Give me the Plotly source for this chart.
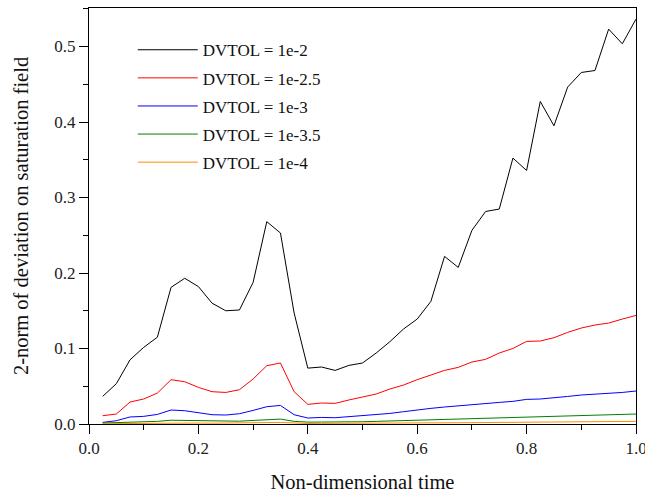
import plotly.graph_objects as go

time = [0.025, 0.05, 0.075, 0.1, 0.125, 0.15, 0.175, 0.2, 0.225, 0.25,
        0.275, 0.3, 0.325, 0.35, 0.375, 0.4, 0.425, 0.45, 0.475, 0.5,
        0.525, 0.55, 0.575, 0.6, 0.625, 0.65, 0.675, 0.7, 0.725, 0.75,
        0.775, 0.8, 0.825, 0.85, 0.875, 0.9, 0.925, 0.95, 0.975, 1.0]

dv_1e2 = [0.0366, 0.0534, 0.085, 0.1015, 0.115, 0.181, 0.193, 0.182, 0.160, 0.150,
          0.151, 0.1875, 0.268, 0.253, 0.147, 0.074, 0.0755, 0.071, 0.0776, 0.0808,
          0.094, 0.109, 0.1258, 0.139, 0.1624, 0.222, 0.2074, 0.2564, 0.2815, 0.2847,
          0.3522, 0.3358, 0.4272, 0.395, 0.4462, 0.4656, 0.4682, 0.523, 0.5036, 0.5363]

dv_1e25 = [0.011, 0.0132, 0.0291, 0.0331, 0.041, 0.0587, 0.056, 0.0485, 0.0428, 0.0418,
           0.0454, 0.0596, 0.0772, 0.0808, 0.0428, 0.026, 0.0278, 0.0273, 0.0318, 0.0361,
           0.0397, 0.0463, 0.0516, 0.0587, 0.0649, 0.071, 0.075, 0.0821, 0.0856, 0.094,
           0.1001, 0.1094, 0.1099, 0.1143, 0.1213, 0.1271, 0.1311, 0.1337, 0.139, 0.1438]

dv_1e3 = [0.0021, 0.0044, 0.0093, 0.0101, 0.0127, 0.0185, 0.0176, 0.0146, 0.0123, 0.0119,
          0.0136, 0.018, 0.0229, 0.0246, 0.0123, 0.0079, 0.0087, 0.0083, 0.0097, 0.011,
          0.0127, 0.014, 0.0163, 0.0189, 0.0207, 0.0225, 0.0238, 0.0256, 0.0273, 0.0286,
          0.03, 0.0326, 0.0331, 0.0344, 0.0365, 0.0384, 0.0392, 0.0401, 0.0418, 0.0437]

dv_1e35 = [0.0013, 0.0018, 0.0025, 0.0028, 0.0035, 0.005, 0.0048, 0.004, 0.0035, 0.0034,
           0.0037, 0.0047, 0.006, 0.0065, 0.0035, 0.0025, 0.0026, 0.0025, 0.0028, 0.003,
           0.0035, 0.004, 0.0045, 0.005, 0.0056, 0.006, 0.0066, 0.007, 0.0076, 0.0082,
           0.0087, 0.0092, 0.0096, 0.01, 0.0105, 0.011, 0.0115, 0.012, 0.0125, 0.0132]

dv_1e4 = [0.0004, 0.0006, 0.0008, 0.0009, 0.0011, 0.0015, 0.0014, 0.0012, 0.0011, 0.0011,
          0.0012, 0.0015, 0.0019, 0.0021, 0.0011, 0.0007, 0.0008, 0.0008, 0.0009, 0.001,
          0.0011, 0.0012, 0.0013, 0.0014, 0.0015, 0.0016, 0.0017, 0.0018, 0.0019, 0.002,
          0.0021, 0.0022, 0.0024, 0.0025, 0.0026, 0.0028, 0.0029, 0.0031, 0.0033, 0.0035]

series_names = ["DVTOL = 1e-2", "DVTOL = 1e-2.5", "DVTOL = 1e-3", "DVTOL = 1e-3.5", "DVTOL = 1e-4"]
series_values = [dv_1e2, dv_1e25, dv_1e3, dv_1e35, dv_1e4]
series_colors = ["#000000", "#ff0000", "#0000ff", "#008000", "#ff8c00"]

x_ticks = [0.0, 0.2, 0.4, 0.6, 0.8, 1.0]
x_minor = [0.1, 0.3, 0.5, 0.7, 0.9]
y_ticks = [0.0, 0.1, 0.2, 0.3, 0.4, 0.5]

FONT = "Liberation Serif, Times New Roman, serif"

fig = go.Figure()
for name, vals, col in zip(series_names, series_values, series_colors):
    fig.add_trace(go.Scatter(x=time, y=vals, mode="lines", name=name,
                             legendgroup=name,
                             line=dict(color=col, width=1)))

axis_common = dict(
    showline=True, linecolor="#000000", linewidth=1, mirror=True,
    showgrid=False, zeroline=False,
    ticks="outside", ticklen=9, tickwidth=1, tickcolor="#000000",
    tickfont=dict(family=FONT, size=17, color="#222222"),
    ticklabeloverflow="allow",
)

fig.update_xaxes(range=[0, 1.0], tickmode="array", tickvals=x_ticks,
                 ticktext=[f"{v:.1f}" for v in x_ticks],
                 minor=dict(tickmode="array", tickvals=x_minor, ticks="outside",
                            ticklen=5, tickcolor="#000000"),
                 title=dict(text="Non-dimensional time", font=dict(family=FONT, size=20.5, color="#111111"),
                            standoff=18),
                 **axis_common)
fig.update_yaxes(range=[0, 0.551], tickmode="array", tickvals=y_ticks,
                 ticktext=[f"{v:.1f}" for v in y_ticks],
                 minor=dict(dtick=0.05, ticks="outside", ticklen=5, tickcolor="#000000"),
                 title=dict(text="2-norm of deviation on saturation field",
                            font=dict(family=FONT, size=20.5, color="#111111"), standoff=20),
                 **axis_common)

fig.update_layout(
    width=645, height=493,
    margin=dict(l=89, r=9, t=8, b=69, autoexpand=False),
    paper_bgcolor="#ffffff", plot_bgcolor="#ffffff",
    showlegend=True,
    hovermode=False,
    legend=dict(x=0.08, y=0.9418, xanchor="left", yanchor="top",
                font=dict(family=FONT, size=17, color="#111111"),
                bgcolor="rgba(0,0,0,0)", borderwidth=0,
                tracegroupgap=3, itemwidth=60),
)

fig.write_html("out.html", config={"displayModeBar": False},
               post_script="document.body.style.margin='0';document.body.style.padding='0';")
